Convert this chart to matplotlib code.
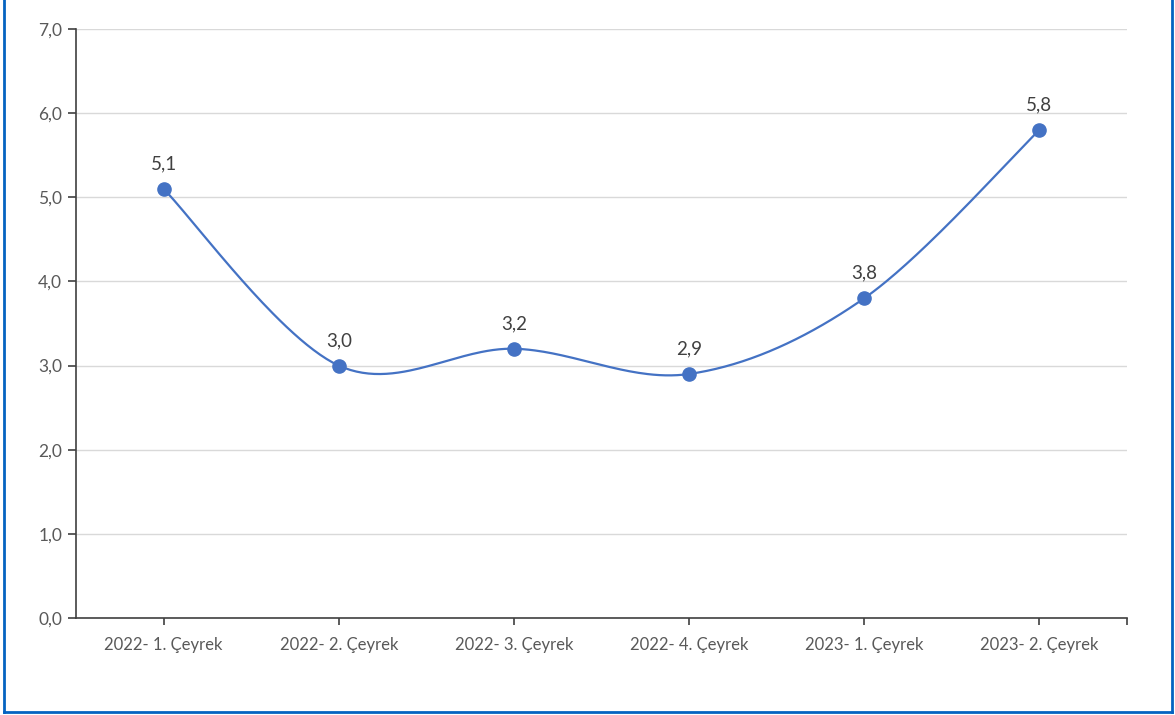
import numpy as np
import matplotlib
matplotlib.use('Agg')
import matplotlib.pyplot as plt
from matplotlib.lines import Line2D

plt.rcParams['font.family'] = ['Lato', 'DejaVu Sans']

categories = ['2022- 1. Çeyrek', '2022- 2. Çeyrek', '2022- 3. Çeyrek',
              '2022- 4. Çeyrek', '2023- 1. Çeyrek', '2023- 2. Çeyrek']
values = [5.1, 3.0, 3.2, 2.9, 3.8, 5.8]
yticks = [0, 1, 2, 3, 4, 5, 6, 7]

LINE_COLOR = '#4472C4'
TEXT_COLOR = '#595959'


def smooth(xs, ys, n=60):
    # Excel-like smoothing: cubic Bezier with Catmull-Rom control points
    xs = np.asarray(xs, float)
    ys = np.asarray(ys, float)
    px = np.concatenate([[xs[0]], xs, [xs[-1]]])
    py = np.concatenate([[ys[0]], ys, [ys[-1]]])
    out_x, out_y = [], []
    t = np.linspace(0, 1, n)
    for i in range(1, len(px) - 2):
        p0 = np.array([px[i], py[i]])
        p3 = np.array([px[i + 1], py[i + 1]])
        c1 = p0 + (np.array([px[i + 1], py[i + 1]]) - np.array([px[i - 1], py[i - 1]])) / 6
        c2 = p3 - (np.array([px[i + 2], py[i + 2]]) - np.array([px[i], py[i]])) / 6
        b = ((1 - t)[:, None] ** 3 * p0 + 3 * ((1 - t) ** 2 * t)[:, None] * c1
             + 3 * ((1 - t) * t ** 2)[:, None] * c2 + (t ** 3)[:, None] * p3)
        out_x.extend(b[:, 0])
        out_y.extend(b[:, 1])
    return out_x, out_y


fig = plt.figure(figsize=(11.75, 7.15), dpi=100)
ax = fig.add_axes([76 / 1175, 97 / 715, 1051 / 1175, 589 / 715])

x = np.arange(len(categories))
sx, sy = smooth(x, values)
ax.plot(sx, sy, color=LINE_COLOR, linewidth=1.6, zorder=3)
ax.plot(x, values, 'o', color=LINE_COLOR, markersize=9.5, zorder=4)

for xi, v in zip(x, values):
    ax.annotate(f'{v:.1f}'.replace('.', ','), (xi, v), xytext=(0, 12),
                textcoords='offset points', ha='center', va='bottom',
                fontsize=13.5, color='#404040')

ax.set_xlim(-0.5, len(categories) - 0.5)
ax.set_ylim(0, 7)
ax.set_yticks(yticks)
ax.set_yticklabels([f'{t:.1f}'.replace('.', ',') for t in yticks])
ax.set_xticks(x)
ax.set_xticks([len(categories) - 0.5], minor=True)
ax.set_xticklabels(categories)

ax.grid(axis='y', color='#D9D9D9', linewidth=1)
ax.set_axisbelow(True)
for s in ['top', 'right']:
    ax.spines[s].set_visible(False)
for s in ['left', 'bottom']:
    ax.spines[s].set_color('#404040')
    ax.spines[s].set_linewidth(1.2)

ax.tick_params(axis='y', length=6, width=1.2, color='#404040',
               labelcolor=TEXT_COLOR, labelsize=12.5, pad=4)
ax.tick_params(axis='x', which='both', length=5, width=1.2, color='#404040',
               labelcolor=TEXT_COLOR, labelsize=12, pad=9)

# blue frame around the picture
bc = '#0563C1'
fig.add_artist(Line2D([4 / 1175, 4 / 1175], [3 / 715, 1], color=bc, linewidth=2))
fig.add_artist(Line2D([1172 / 1175, 1172 / 1175], [3 / 715, 1], color=bc, linewidth=2))
fig.add_artist(Line2D([4 / 1175, 1172 / 1175], [3 / 715, 3 / 715], color=bc, linewidth=2))

fig.savefig('out.png', dpi=100)
